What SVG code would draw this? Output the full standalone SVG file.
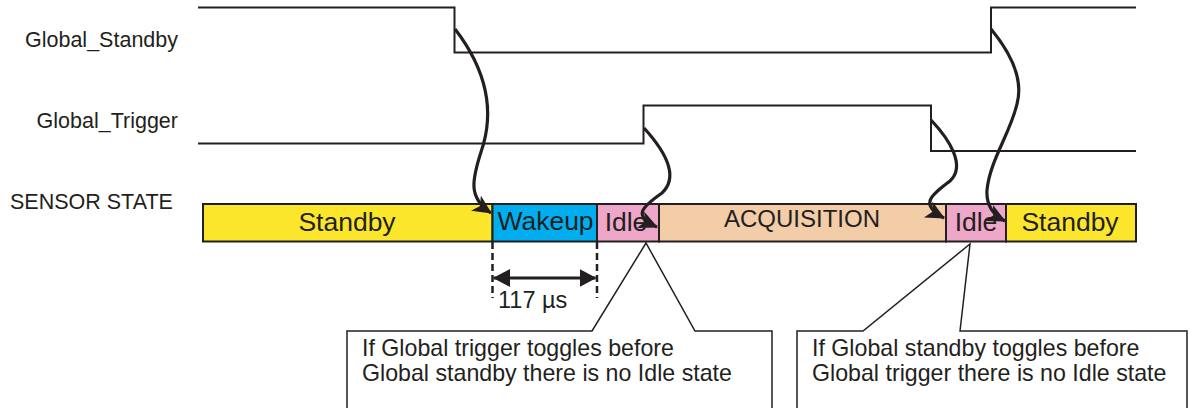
<svg xmlns="http://www.w3.org/2000/svg" width="1191" height="408" viewBox="0 0 1191 408">
  <style>
    text { font-family: "Liberation Sans", Arial, sans-serif; fill: #231f20; }
    .label { font-size: 21.5px; }
    .state { font-size: 26.5px; text-anchor: middle; }
    .note { font-size: 23.2px; }
    .signal { fill: none; stroke: #231f20; stroke-width: 2; }
    .box { stroke: #231f20; stroke-width: 2; }
    .flow { fill: none; stroke: #231f20; stroke-width: 3.2; marker-end: url(#head); }
    .callout { fill: #ffffff; stroke: #231f20; stroke-width: 1.5; }
  </style>
  <defs>
    <marker id="head" markerUnits="userSpaceOnUse" markerWidth="22" markerHeight="20" refX="18" refY="9" orient="auto">
      <path d="M0,0 L19,9 L0,18 L5,9 z" fill="#231f20"/>
    </marker>
    <marker id="dim" markerUnits="userSpaceOnUse" markerWidth="18" markerHeight="18" refX="16" refY="9" orient="auto-start-reverse">
      <path d="M0,0 L17,9 L0,18 z" fill="#231f20"/>
    </marker>
  </defs>

  <!-- signal names -->
  <g id="labels">
    <text class="label" x="178" y="47" text-anchor="end">Global_Standby</text>
    <text class="label" x="178" y="128" text-anchor="end">Global_Trigger</text>
    <text class="label" x="10" y="209">SENSOR STATE</text>
  </g>

  <!-- waveforms -->
  <g id="waveforms">
    <path id="global-standby" class="signal" d="M198,7.5 H454.5 V52.5 H991 V7.5 H1136"/>
    <path id="global-trigger" class="signal" d="M198,143.5 H643.5 V105.5 H931 V151 H1136"/>
  </g>

  <!-- sensor state bar -->
  <g id="state-standby-1">
    <rect class="box" x="203" y="204" width="289.5" height="37.5" fill="#fbe62b"/>
    <text class="state" x="347" y="231">Standby</text>
  </g>
  <g id="state-wakeup">
    <rect class="box" x="492.5" y="204" width="104.5" height="37.5" fill="#00aeef"/>
    <text class="state" x="545.5" y="230">Wakeup</text>
  </g>
  <g id="state-idle-1">
    <rect class="box" x="597" y="204" width="62" height="37.5" fill="#eea7c8"/>
    <text class="state" x="626" y="231">Idle</text>
  </g>
  <g id="state-acquisition">
    <rect class="box" x="659" y="204" width="287" height="37.5" fill="#f3cca8"/>
    <text class="state" x="802" y="227" style="font-size:24px">ACQUISITION</text>
  </g>
  <g id="state-idle-2">
    <rect class="box" x="946" y="204" width="60" height="37.5" fill="#eea7c8"/>
    <text class="state" x="976" y="231">Idle</text>
  </g>
  <g id="state-standby-2">
    <rect class="box" x="1006" y="204" width="130" height="37.5" fill="#fbe62b"/>
    <text class="state" x="1070" y="231">Standby</text>
  </g>

  <!-- wakeup duration -->
  <g id="wakeup-time">
    <line x1="492.5" y1="242" x2="492.5" y2="298" stroke="#231f20" stroke-width="2.5" stroke-dasharray="7,4"/>
    <line x1="597" y1="242" x2="597" y2="298" stroke="#231f20" stroke-width="2.5" stroke-dasharray="7,4"/>
    <line x1="494" y1="278" x2="595.5" y2="278" stroke="#231f20" stroke-width="3" marker-start="url(#dim)" marker-end="url(#dim)"/>
    <text x="498" y="308" style="font-size:23.5px">117 µs</text>
  </g>

  <!-- transitions from signal edges to states -->
  <g id="connectors">
    <path class="flow" d="M455,29 C488,72 495,112 481,152 C472,180 468,198 491,213"/>
    <path class="flow" d="M644,128 C664,150 680,176 662,193 C642,207 632,216 657,227"/>
    <path class="flow" d="M931,120 C950,140 966,166 950,181 C932,195 918,204 944,218"/>
    <path class="flow" d="M991,29 C1010,52 1024,78 1017,104 C1010,134 990,160 987,190 C986,206 993,215 1005,221"/>
  </g>

  <!-- notes -->
  <g id="note-trigger-first">
    <path class="callout" d="M347,412 V331 H592 L646,243 L695,331 H772 V412"/>
    <text class="note" x="362" y="356">If Global trigger toggles before</text>
    <text class="note" x="362" y="381">Global standby there is no Idle state</text>
  </g>
  <g id="note-standby-first">
    <path class="callout" d="M797,412 V331 H863 L970,244 L960,331 H1187 V412"/>
    <text class="note" x="812" y="356">If Global standby toggles before</text>
    <text class="note" x="812" y="381">Global trigger there is no Idle state</text>
  </g>
</svg>
